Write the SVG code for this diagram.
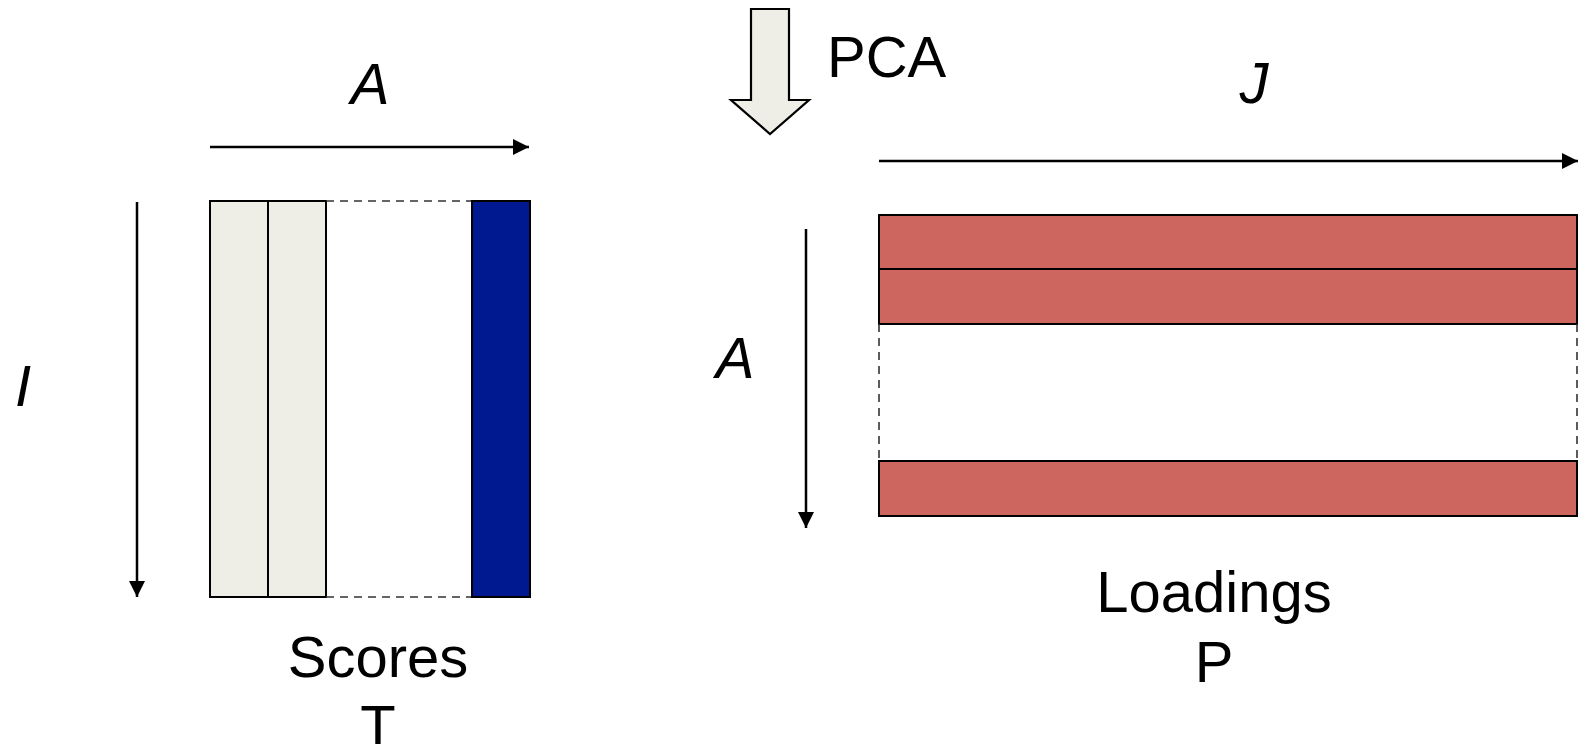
<svg xmlns="http://www.w3.org/2000/svg" width="1578" height="744" viewBox="0 0 1578 744">
<style>
.t{font-family:"Liberation Sans",Arial,sans-serif;font-size:58px;fill:#000}
.i{font-style:italic}
.ax{stroke:#000;stroke-width:2.5;fill:none}
.box{stroke:#000;stroke-width:2}
.dash{stroke:#333;stroke-width:1.6;stroke-dasharray:8 6;fill:none}
.light{fill:#EEEEE6}
.blue{fill:#001890}
.red{fill:#CD665F}
</style>
<defs>
<marker id="ah" markerUnits="userSpaceOnUse" markerWidth="17" markerHeight="17" refX="16" refY="8" orient="auto" viewBox="0 0 17 16">
<path d="M0,0 L16,8 L0,16 Z" fill="#000"/>
</marker>
</defs>
<rect width="1578" height="744" fill="#fff"/>
<g id="pca">
<polygon points="751,9 789,9 789,100 809,100 770,134 731,100 751,100" fill="#EEEEE6" stroke="#000" stroke-width="2.2"/>
<text class="t" x="827" y="77">PCA</text>
</g>
<g id="scores">
<rect class="light box" x="210" y="201" width="58" height="396"/>
<rect class="light box" x="268" y="201" width="58" height="396"/>
<line class="dash" x1="326" y1="201" x2="472" y2="201"/>
<line class="dash" x1="326" y1="597" x2="472" y2="597"/>
<rect class="blue box" x="472" y="201" width="58" height="396"/>
<text class="t" x="378" y="677" text-anchor="middle">Scores</text>
<text class="t" x="378" y="746" text-anchor="middle">T</text>
</g>
<g id="loadings">
<rect class="red box" x="879" y="215" width="698" height="54"/>
<rect class="red box" x="879" y="269" width="698" height="55"/>
<line class="dash" x1="879" y1="324" x2="879" y2="461"/>
<line class="dash" x1="1577" y1="324" x2="1577" y2="461"/>
<rect class="red box" x="879" y="461" width="698" height="55"/>
<text class="t" x="1214" y="612" text-anchor="middle">Loadings</text>
<text class="t" x="1214" y="682" text-anchor="middle">P</text>
</g>
<g id="labels">
<text class="t i" x="370" y="104" text-anchor="middle">A</text>
<text class="t i" x="23" y="406" text-anchor="middle">I</text>
<text class="t i" x="1254" y="103" text-anchor="middle">J</text>
<text class="t i" x="735" y="378" text-anchor="middle">A</text>
</g>
<g id="connectors">
<line class="ax" x1="210" y1="147" x2="529" y2="147" marker-end="url(#ah)"/>
<line class="ax" x1="137" y1="202" x2="137" y2="597" marker-end="url(#ah)"/>
<line class="ax" x1="806" y1="229" x2="806" y2="528" marker-end="url(#ah)"/>
<line class="ax" x1="879" y1="161" x2="1578" y2="161" marker-end="url(#ah)"/>
</g>
</svg>
